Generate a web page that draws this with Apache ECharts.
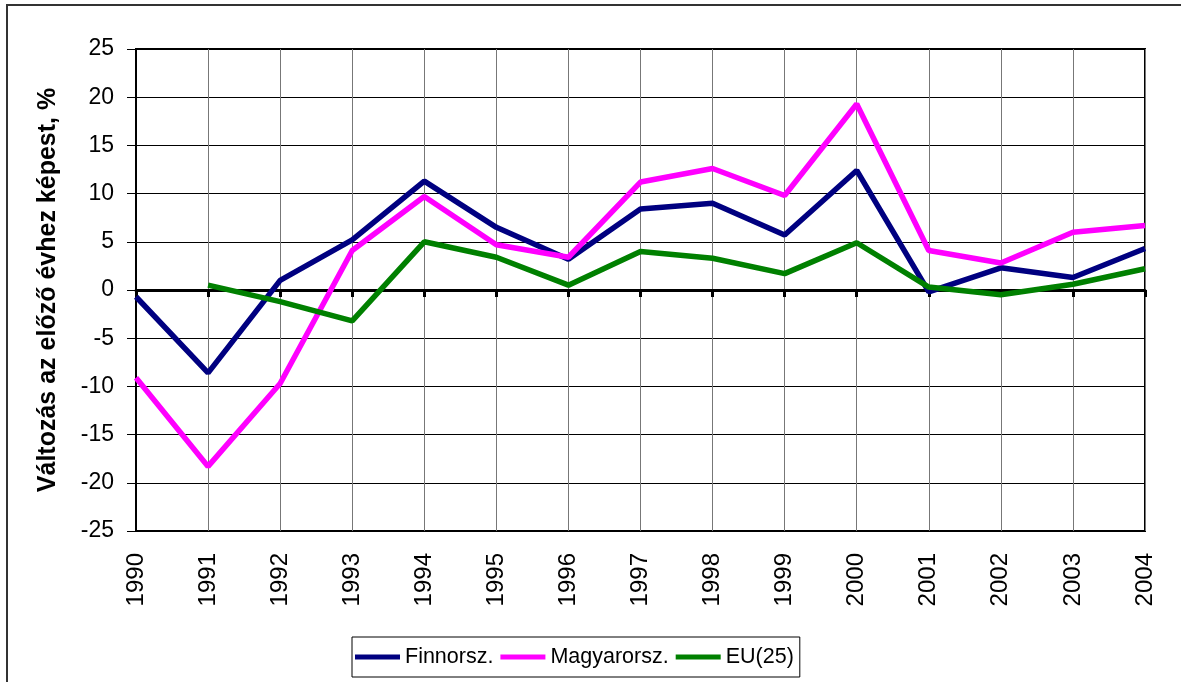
<!DOCTYPE html>
<html>
<head>
<meta charset="utf-8">
<script src="https://cdn.jsdelivr.net/npm/echarts@6/dist/echarts.min.js"></script>
<style>
  html, body { margin: 0; padding: 0; background: #fff; }
  #chart { width: 1181px; height: 682px; }
</style>
</head>
<body>
<div id="chart"></div>
<script>
// évek
var years = ['1990', '1991', '1992', '1993', '1994', '1995', '1996', '1997',
             '1998', '1999', '2000', '2001', '2002', '2003', '2004'];
// változás az előző évhez képest, %
var finnValues = [-0.7, -8.6, 1.0, 5.2, 11.3, 6.5, 3.2, 8.4, 9.0, 5.7, 12.4, -0.2, 2.3, 1.3, 4.3];
var hunValues  = [-9.1, -18.3, -9.7, 4.1, 9.7, 4.7, 3.4, 11.2, 12.6, 9.8, 19.3, 4.1, 2.8, 6.0, 6.7];
var euValues   = [null, 0.5, -1.2, -3.2, 5.0, 3.4, 0.5, 4.0, 3.3, 1.7, 4.9, 0.3, -0.5, 0.6, 2.2];
var yTicks = { min: -25, max: 25, step: 5 };

var myChart = echarts.init(document.getElementById('chart'));
var font = 'Liberation Sans, Arial, sans-serif';

var option = {
  backgroundColor: '#fff',
  animation: false,
  textStyle: { fontFamily: font },
  graphic: [{
    type: 'rect',
    shape: { x: 7, y: 5, width: 1200, height: 700 },
    style: { fill: 'none', stroke: '#333', lineWidth: 2 }
  }],
  grid: {
    left: 136, right: 36, top: 49, bottom: 151,
    show: true, borderColor: '#000', borderWidth: 2, backgroundColor: 'transparent'
  },
  legend: {
    bottom: 5,
    left: 352,
    itemWidth: 45,
    itemHeight: 5,
    itemGap: 7,
    icon: 'rect',
    padding: [9, 6, 9, 3],
    borderColor: '#000',
    borderWidth: 1,
    textStyle: { fontSize: 21.5, color: '#000', fontFamily: font },
    data: ['Finnorsz.', 'Magyarorsz.', 'EU(25)']
  },
  xAxis: [{
    type: 'category',
    data: years,
    boundaryGap: false,
    axisLine: { onZero: true, lineStyle: { color: '#000', width: 3 } },
    axisTick: { show: true, length: 7, lineStyle: { color: '#000', width: 3 } },
    axisLabel: { show: false },
    splitLine: { show: true, lineStyle: { color: '#777', width: 1 } }
  }, {
    type: 'category',
    data: years,
    boundaryGap: false,
    position: 'bottom',
    axisLine: { onZero: false, show: false },
    axisTick: { show: false },
    axisLabel: { rotate: 90, fontSize: 24, color: '#000', margin: 22, fontFamily: font },
    splitLine: { show: false }
  }],
  yAxis: {
    type: 'value',
    min: yTicks.min,
    max: yTicks.max,
    interval: yTicks.step,
    name: 'Változás az előző évhez képest, %',
    nameLocation: 'middle',
    nameGap: 75,
    nameTextStyle: { fontSize: 25, fontWeight: 'bold', color: '#000', fontFamily: font },
    axisLine: { show: true, lineStyle: { color: '#000', width: 1 } },
    axisTick: { show: true, length: 9, lineStyle: { color: '#000' } },
    axisLabel: { fontSize: 23, color: '#000', margin: 22, fontFamily: font },
    splitLine: { show: true, lineStyle: { color: '#000', width: 1 } }
  },
  series: [{
    name: 'Finnorsz.',
    type: 'line',
    xAxisIndex: 0,
    data: finnValues,
    symbol: 'none',
    color: '#000080',
    lineStyle: { width: 5.5, color: '#000080' }
  }, {
    name: 'Magyarorsz.',
    type: 'line',
    xAxisIndex: 0,
    data: hunValues,
    symbol: 'none',
    color: '#ff00ff',
    lineStyle: { width: 5.5, color: '#ff00ff' }
  }, {
    name: 'EU(25)',
    type: 'line',
    xAxisIndex: 0,
    data: euValues,
    symbol: 'none',
    color: '#008000',
    lineStyle: { width: 5.5, color: '#008000' }
  }]
};

myChart.setOption(option);
window.addEventListener('resize', function () {
  myChart.resize();
});
</script>
</body>
</html>
